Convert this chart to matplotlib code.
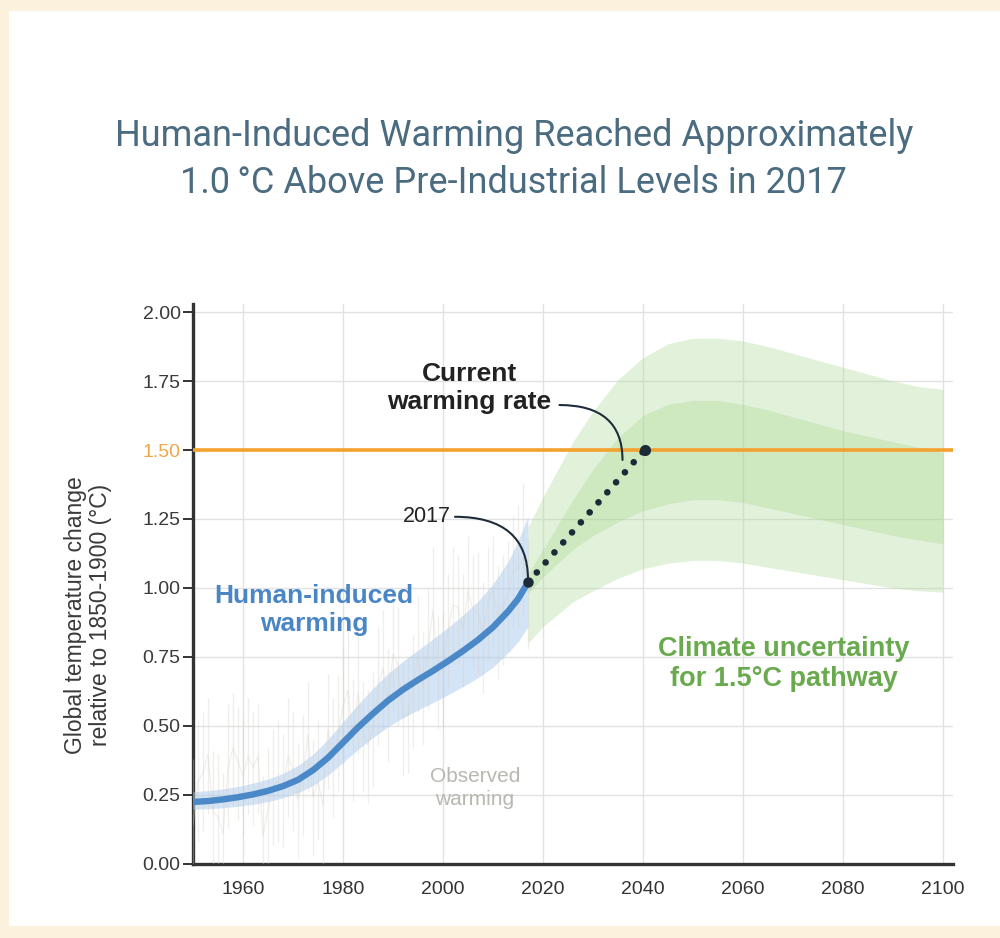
import numpy as np
import matplotlib
matplotlib.use("Agg")
import matplotlib.pyplot as plt
from matplotlib.patches import Rectangle

plt.rcParams['font.family'] = ['Liberation Sans', 'DejaVu Sans']

# ---------------- data ----------------
title_lines = ["Human-Induced Warming Reached Approximately",
               "1.0\u2009°C Above Pre-Industrial Levels in 2017"]

x_ticks = [1960, 1980, 2000, 2020, 2040, 2060, 2080, 2100]
y_ticks = [0.00, 0.25, 0.50, 0.75, 1.00, 1.25, 1.50, 1.75, 2.00]
target_level = 1.50

# human-induced warming (central estimate and likely range)
hi_years = [1950, 1953, 1956, 1959, 1962, 1965, 1968, 1971, 1974, 1977, 1980, 1983,
            1986, 1989, 1992, 1995, 1998, 2001, 2004, 2007, 2010, 2013, 2015, 2017]
hi_mid   = [0.225, 0.228, 0.234, 0.242, 0.252, 0.265, 0.282, 0.305, 0.340, 0.385, 0.440, 0.495,
            0.545, 0.592, 0.632, 0.667, 0.700, 0.735, 0.772, 0.812, 0.858, 0.915, 0.960, 1.020]
hi_upper = [0.262, 0.266, 0.272, 0.281, 0.293, 0.308, 0.328, 0.357, 0.398, 0.452, 0.515, 0.578,
            0.637, 0.690, 0.735, 0.775, 0.815, 0.857, 0.902, 0.952, 1.015, 1.095, 1.170, 1.260]
hi_lower = [0.198, 0.200, 0.204, 0.209, 0.216, 0.226, 0.240, 0.258, 0.285, 0.322, 0.368, 0.415,
            0.458, 0.497, 0.530, 0.558, 0.585, 0.613, 0.643, 0.675, 0.713, 0.765, 0.805, 0.860]

# observed warming (annual ranges)
obs_years = list(range(1950, 2018))
obs_mean = [0.14, 0.30, 0.33, 0.40, 0.19, 0.17, 0.11, 0.35, 0.42, 0.37,
            0.32, 0.39, 0.35, 0.39, 0.10, 0.20, 0.28, 0.30, 0.27, 0.39,
            0.34, 0.23, 0.32, 0.47, 0.24, 0.30, 0.21, 0.49, 0.38, 0.47,
            0.57, 0.63, 0.45, 0.62, 0.47, 0.43, 0.49, 0.64, 0.71, 0.58,
            0.76, 0.72, 0.53, 0.54, 0.63, 0.76, 0.64, 0.78, 0.92, 0.70,
            0.70, 0.85, 0.94, 0.93, 0.85, 0.99, 0.92, 0.91, 0.83, 0.95,
            0.99, 0.88, 0.93, 0.98, 1.06, 1.07, 1.11, 0.99]
obs_high = [0.38, 0.52, 0.55, 0.60, 0.41, 0.40, 0.33, 0.58, 0.62, 0.57,
            0.53, 0.60, 0.55, 0.58, 0.32, 0.42, 0.49, 0.52, 0.47, 0.60,
            0.55, 0.44, 0.54, 0.66, 0.45, 0.52, 0.42, 0.69, 0.60, 0.68,
            0.78, 0.84, 0.67, 0.86, 0.66, 0.63, 0.70, 0.86, 0.92, 0.78,
            0.97, 0.93, 0.73, 0.75, 0.83, 0.97, 0.84, 1.00, 1.15, 0.90,
            0.91, 1.05, 1.15, 1.12, 1.05, 1.19, 1.12, 1.13, 1.02, 1.15,
            1.19, 1.08, 1.12, 1.17, 1.26, 1.30, 1.38, 1.18]
obs_low = [-0.06, 0.08, 0.12, 0.18, -0.02, -0.04, -0.10, 0.13, 0.21, 0.16,
           0.11, 0.18, 0.14, 0.18, -0.10, 0.00, 0.07, 0.08, 0.06, 0.17,
           0.12, 0.02, 0.10, 0.26, 0.03, 0.09, 0.00, 0.27, 0.17, 0.26,
           0.36, 0.42, 0.23, 0.40, 0.26, 0.22, 0.28, 0.43, 0.49, 0.37,
           0.55, 0.50, 0.32, 0.33, 0.42, 0.55, 0.43, 0.56, 0.70, 0.49,
           0.49, 0.64, 0.73, 0.72, 0.64, 0.78, 0.71, 0.69, 0.62, 0.74,
           0.78, 0.67, 0.72, 0.77, 0.85, 0.86, 0.90, 0.78]

# climate uncertainty for 1.5 °C pathway
gr_years = [2017, 2020, 2023, 2026, 2030, 2035, 2040, 2045, 2050, 2055,
            2060, 2065, 2070, 2075, 2080, 2085, 2090, 2095, 2100]
outer_hi = [1.22, 1.33, 1.43, 1.53, 1.64, 1.755, 1.835, 1.885, 1.905, 1.905,
            1.895, 1.875, 1.85, 1.825, 1.80, 1.775, 1.75, 1.73, 1.72]
inner_hi = [1.05, 1.14, 1.23, 1.32, 1.43, 1.545, 1.625, 1.665, 1.68, 1.68,
            1.665, 1.645, 1.62, 1.595, 1.57, 1.55, 1.53, 1.51, 1.49]
inner_lo = [0.98, 1.04, 1.09, 1.14, 1.19, 1.24, 1.28, 1.305, 1.32, 1.32,
            1.31, 1.29, 1.27, 1.25, 1.23, 1.21, 1.19, 1.175, 1.16]
outer_lo = [0.80, 0.86, 0.905, 0.95, 0.99, 1.035, 1.07, 1.09, 1.10, 1.10,
            1.09, 1.075, 1.06, 1.045, 1.03, 1.015, 1.00, 0.99, 0.985]

# current warming rate extrapolation
rate_years = [2017, 2040.3]
rate_vals = [1.02, 1.50]

# ---------------- figure ----------------
fig = plt.figure(figsize=(10, 9.38), dpi=100)
fig.patch.set_facecolor('#fcf1dc')
fig.add_artist(Rectangle((9 / 1000, 12 / 938), 1.0, 1 - 12 / 938 - 11 / 938,
                         transform=fig.transFigure, facecolor='white',
                         edgecolor='none', zorder=0))

ax = fig.add_axes([0.193, 0.0789, 0.76, 0.5973])
ax.set_facecolor('none')
ax.set_xlim(1950, 2102)
ax.set_ylim(0, 2.03)

# grid
ax.set_xticks(x_ticks)
ax.set_yticks(y_ticks)
ax.grid(True, color='#e2e2e2', lw=1.0, zorder=0)
ax.set_axisbelow(True)

# green uncertainty bands
ax.fill_between(gr_years, outer_lo, outer_hi, color='#a6d68e', alpha=0.32, lw=0, zorder=1.5)
ax.fill_between(gr_years, inner_lo, inner_hi, color='#a6d68e', alpha=0.33, lw=0, zorder=1.6)

# human-induced band
ax.fill_between(hi_years, hi_lower, hi_upper, color='#a9cbee', alpha=0.5, lw=0, zorder=3)

# observed warming
ax.vlines(obs_years, obs_low, obs_high, color='#d3cfc4', lw=0.9, alpha=0.35, zorder=3.5)
ax.plot(obs_years, obs_mean, color='#d3cfc4', lw=0.8, alpha=0.35, zorder=3.5)

# human-induced line
ax.plot(hi_years, hi_mid, color='#4a88c8', lw=4.6, solid_capstyle='butt',
        solid_joinstyle='round', zorder=4)

# 1.5 line
ax.axhline(target_level, color='#f4a12e', lw=2.6, zorder=5)

# current warming rate dots
ax.plot(rate_years, rate_vals, color='#1c2b38', lw=4.8,
        linestyle=(0, (0.001, 2.0)), dash_capstyle='round', zorder=6)
ax.plot([rate_years[0]], [rate_vals[0]], 'o', color='#1c2b38', ms=6.5, zorder=7)
ax.plot([rate_years[-1]], [rate_vals[-1]], 'o', color='#1c2b38', ms=7, zorder=7)

# spines & ticks
for s in ['top', 'right']:
    ax.spines[s].set_visible(False)
for s in ['left', 'bottom']:
    ax.spines[s].set_linewidth(2.4)
    ax.spines[s].set_color('#333333')
ax.tick_params(axis='x', length=0, pad=12, labelsize=14, labelcolor='#333333')
ax.tick_params(axis='y', length=7, width=1.4, color='#333333', pad=2,
               labelsize=14, labelcolor='#3a3a3a')
ax.set_yticklabels([f"{v:.2f}" for v in y_ticks])
for lbl, v in zip(ax.get_yticklabels(), y_ticks):
    if abs(v - target_level) < 1e-9:
        lbl.set_color('#f2a54a')

# y label
fig.text(0.088, 0.344, "Global temperature change\nrelative to 1850-1900 (°C)",
         rotation=90, ha='center', va='center', fontsize=16.5,
         color='#3a3a3a', linespacing=1.1, multialignment='center')

# annotations
ax.text(1996.7, 1.258, "2017", ha='center', va='center', fontsize=15.5, color='#222222')
ax.annotate("", xy=(2017, 1.03), xytext=(2002.4, 1.258),
            arrowprops=dict(arrowstyle='-', color='#1f2d3a', lw=1.5,
                            connectionstyle='angle3,angleA=0,angleB=90',
                            shrinkA=0, shrinkB=0), zorder=8)

ax.text(2005.2, 1.725, "Current\nwarming rate", ha='center', va='center',
        fontsize=19, fontweight='bold', color='#222222', linespacing=1.2)
ax.annotate("", xy=(2035.9, 1.464), xytext=(2023.3, 1.663),
            arrowprops=dict(arrowstyle='-', color='#1f2d3a', lw=1.5,
                            connectionstyle='angle3,angleA=0,angleB=90',
                            shrinkA=0, shrinkB=0), zorder=8)

ax.text(1974.2, 0.92, "Human-induced\nwarming", ha='center', va='center',
        fontsize=19, fontweight='bold', color='#4a86c5', linespacing=1.2, zorder=9)

ax.text(2068.2, 0.725, "Climate uncertainty\nfor 1.5°C pathway", ha='center', va='center',
        fontsize=19.5, fontweight='bold', color='#6aaa4e', linespacing=1.2, zorder=9)

ax.text(2006.4, 0.275, "Observed\nwarming", ha='center', va='center',
        fontsize=15, color='#b8b8b0', linespacing=1.25, zorder=9)

# title
fig.text(0.514, 1 - 146 / 938, title_lines[0], ha='center', va='baseline',
         fontsize=26, family=['Roboto', 'DejaVu Sans'], color='#4a6b80')
fig.text(0.513, 1 - 193 / 938, title_lines[1], ha='center', va='baseline',
         fontsize=26, family=['Roboto', 'DejaVu Sans'], color='#4a6b80')

fig.savefig("out.png", dpi=100, facecolor=fig.get_facecolor())
